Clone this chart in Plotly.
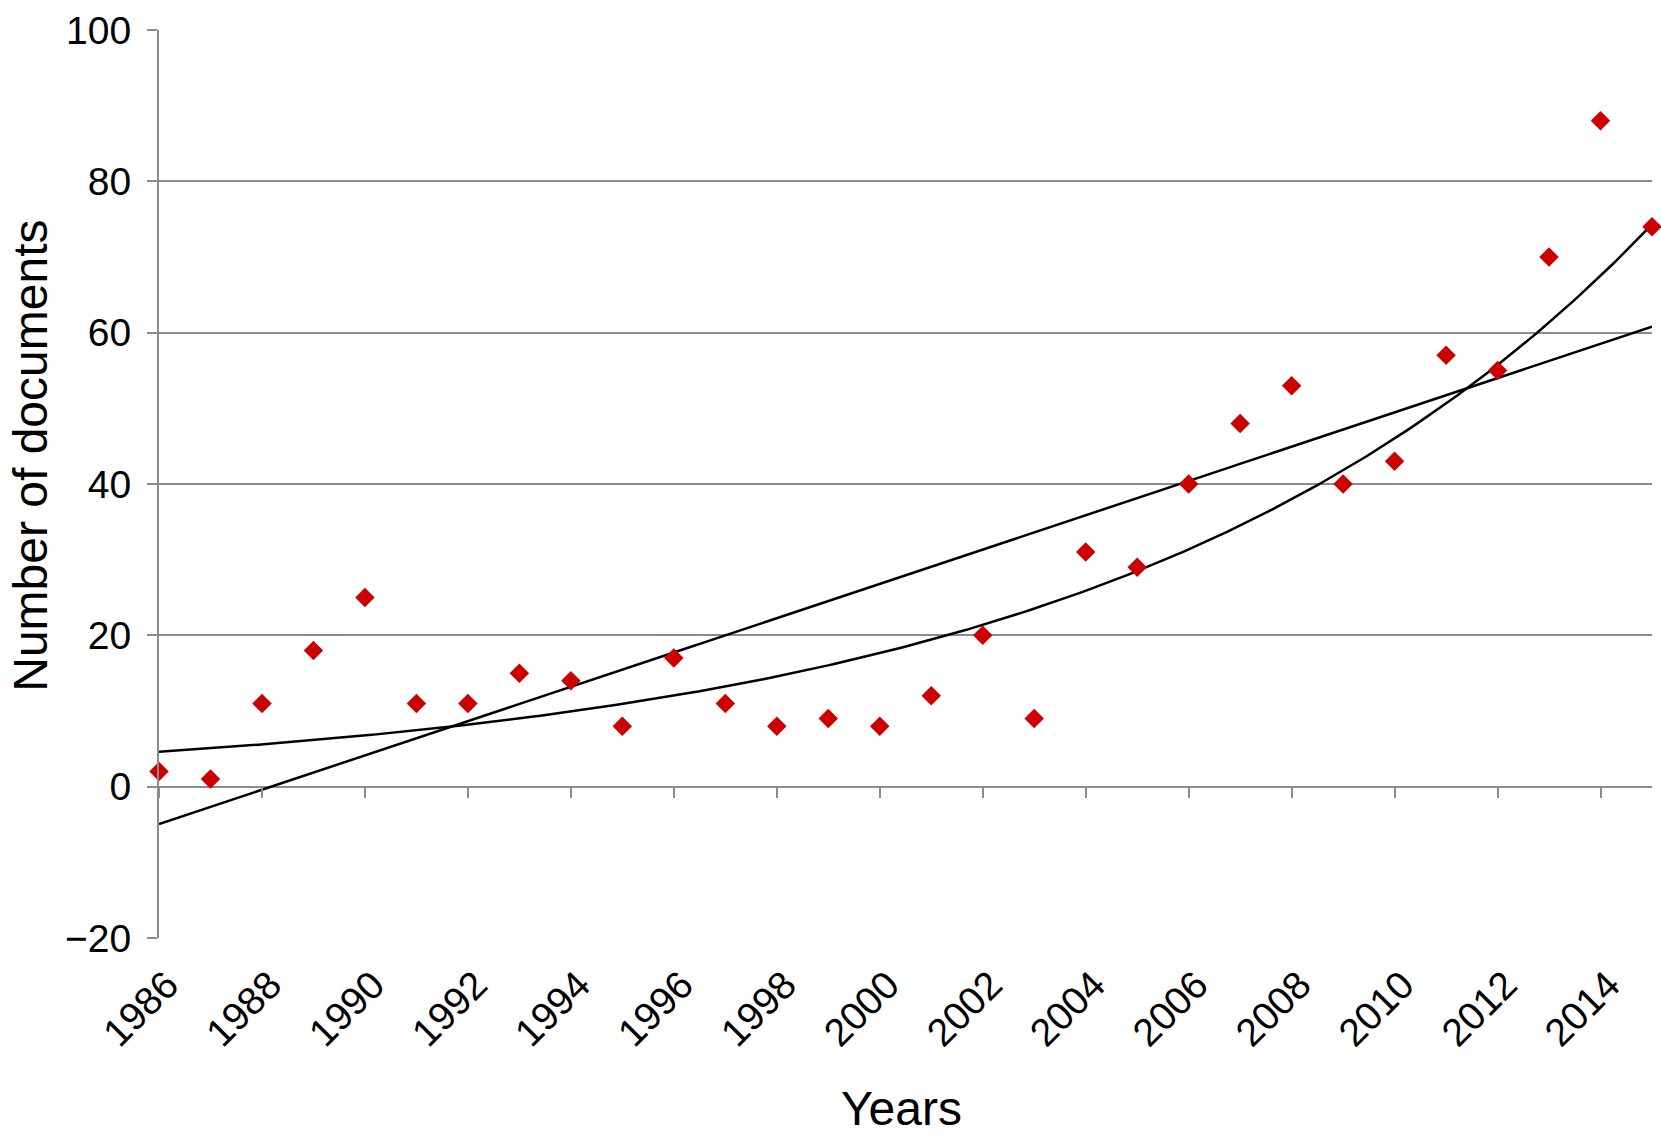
import numpy as np
import plotly.graph_objects as go

years = list(range(1986, 2016))
documents = [2, 1, 11, 18, 25, 11, 11, 15, 14, 8,
             17, 11, 8, 9, 8, 12, 20, 9, 31, 29,
             40, 48, 53, 40, 43, 57, 55, 70, 88, 74]
x_tick_vals = list(range(1986, 2015, 2))
y_tick_vals = [-20, 0, 20, 40, 60, 80, 100]

x = np.array(years, dtype=float)
y = np.array(documents, dtype=float)

# linear trendline
lin_coef = np.polyfit(x - x[0], y, 1)
# exponential trendline (least squares on ln y, as in spreadsheet trendlines)
exp_coef = np.polyfit(x - x[0], np.log(y), 1)
xs = np.linspace(x[0], x[-1], 300)
lin_y = np.polyval(lin_coef, xs - x[0])
exp_y = np.exp(np.polyval(exp_coef, xs - x[0]))

GRID = "#8c8c8c"
FONT = "Liberation Sans, Arial, Helvetica, sans-serif"

fig = go.Figure()
fig.add_trace(go.Scatter(x=xs, y=lin_y, mode="lines",
                         line=dict(color="black", width=2.5),
                         showlegend=False, hoverinfo="skip"))
fig.add_trace(go.Scatter(x=xs, y=exp_y, mode="lines",
                         line=dict(color="black", width=2.5),
                         showlegend=False, hoverinfo="skip"))
fig.add_trace(go.Scatter(x=years, y=documents, mode="markers",
                         marker=dict(symbol="diamond", size=15, color="#cc0000",
                                     line=dict(width=0)),
                         cliponaxis=False, showlegend=False))
# helper trace so the tick axis at y = 0 is drawn
fig.add_trace(go.Scatter(x=years[:1], y=documents[:1], xaxis="x2", mode="markers",
                         marker=dict(opacity=0), showlegend=False, hoverinfo="skip"))

y_min, y_max = -20, 100
fig.update_layout(
    width=1661, height=1136,
    paper_bgcolor="white", plot_bgcolor="white",
    margin=dict(l=159, r=9, t=28, b=198),
    font=dict(family=FONT, color="black", size=39),
    xaxis=dict(range=[years[0], years[-1]], tickvals=x_tick_vals,
               tickangle=-45, showgrid=False, zeroline=False, showline=False,
               ticks="", tickfont=dict(size=39), ticklabelstandoff=15,
               ticklabelshift=8),
    xaxis2=dict(range=[years[0], years[-1]], overlaying="x", anchor="free",
                position=(0 - y_min) / (y_max - y_min), side="bottom",
                tickvals=x_tick_vals, ticks="outside", ticklen=10, tickwidth=2,
                tickcolor=GRID, showticklabels=False, showgrid=False,
                zeroline=False, showline=False),
    yaxis=dict(range=[y_min, y_max], tickvals=y_tick_vals,
               showgrid=True, gridcolor=GRID, gridwidth=2,
               zeroline=False, showline=True, linecolor=GRID, linewidth=2,
               ticks="outside", ticklen=10, tickwidth=2, tickcolor=GRID,
               tickfont=dict(size=39), ticklabelstandoff=8),
    annotations=[
        dict(text="Number of documents", xref="paper", yref="paper",
             x=-0.0858, y=0.531, textangle=-90, showarrow=False,
             xanchor="center", yanchor="middle", font=dict(size=48)),
        dict(text="Years", xref="paper", yref="paper",
             x=0.4973, y=-0.188, showarrow=False,
             xanchor="center", yanchor="middle", font=dict(size=48)),
    ],
)

fig.write_html(
    "out.html",
    config={"displayModeBar": False},
    post_script="document.body.style.margin='0';document.body.style.overflow='hidden';",
)
